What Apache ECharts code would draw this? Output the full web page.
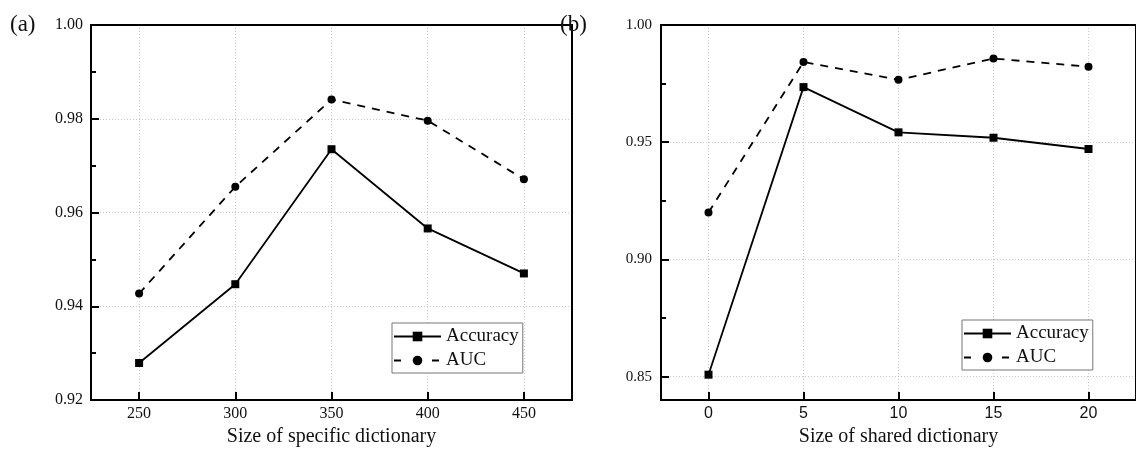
<!DOCTYPE html>
<html>
<head>
<meta charset="utf-8">
<script src="https://cdn.jsdelivr.net/npm/echarts@6/dist/echarts.min.js"></script>
<style>
    html, body { margin: 0; padding: 0; background: #fff; }
    #main { width: 1136px; height: 452px; }
</style>
</head>
<body>
<div id="main"></div>
<script>
// panel (a)
var specificSizes = [250, 300, 350, 400, 450];
var specificAccuracy = [0.9279, 0.9447, 0.9735, 0.9566, 0.9470];
var specificAUC = [0.9427, 0.9655, 0.9841, 0.9796, 0.9671];

// panel (b)
var sharedSizes = [0, 5, 10, 15, 20];
var sharedAccuracy = [0.8508, 0.9735, 0.9542, 0.9519, 0.9471];
var sharedAUC = [0.9200, 0.9842, 0.9766, 0.9857, 0.9822];
var sharedYTicks = [0.85, 0.90, 0.95, 1.00];
var sharedYMinor = [0.875, 0.925, 0.975];

var serif = 'Liberation Serif';

function pairs(xs, ys) {
    var out = [];
    for (var i = 0; i < xs.length; i++) {
        out.push([xs[i], ys[i]]);
    }
    return out;
}

function dotted() {
    return { show: true, lineStyle: { color: '#c8c8c8', type: [1, 2], width: 1 } };
}

function xAxisFor(grid, min, max, ticks, name, labelFont) {
    return {
        gridIndex: grid,
        type: 'value',
        min: min,
        max: max,
        name: name,
        nameLocation: 'middle',
        nameGap: 26,
        nameTextStyle: { fontFamily: serif, fontSize: 20, color: '#111' },
        axisLine: { show: true, onZero: false, lineStyle: { color: '#000', width: 2 } },
        axisTick: { show: true, inside: true, length: 8, customValues: ticks, lineStyle: { color: '#000', width: 2 } },
        axisLabel: { customValues: ticks, margin: 6, fontFamily: labelFont, fontSize: 16, color: '#111' },
        splitLine: dotted()
    };
}

function seriesPair(xIdx, yIdx, xs, acc, auc) {
    return [
        {
            name: 'Accuracy',
            type: 'line',
            xAxisIndex: xIdx,
            yAxisIndex: yIdx,
            data: pairs(xs, acc),
            symbol: 'rect',
            symbolSize: 8,
            color: '#000',
            lineStyle: { color: '#000', width: 1.8, type: 'solid' },
            itemStyle: { color: '#000' },
            z: 3
        },
        {
            name: 'AUC',
            type: 'line',
            xAxisIndex: xIdx,
            yAxisIndex: yIdx,
            data: pairs(xs, auc),
            symbol: 'circle',
            symbolSize: 8,
            color: '#000',
            lineStyle: { color: '#000', width: 1.8, type: [8, 7] },
            itemStyle: { color: '#000' },
            z: 3
        }
    ];
}

function legendAt(left, top) {
    return {
        orient: 'vertical',
        left: left,
        top: top,
        data: [
            { name: 'Accuracy' },
            { name: 'AUC', lineStyle: { type: [7, 12] } }
        ],
        itemWidth: 47,
        itemHeight: 12,
        itemGap: 5,
        padding: [4, 4, 3, 1],
        borderColor: '#777',
        borderWidth: 1,
        backgroundColor: '#fff',
        textStyle: { fontFamily: serif, fontSize: 19, color: '#111' }
    };
}

var chart = echarts.init(document.getElementById('main'));

var option = {
    backgroundColor: '#fff',
    animation: false,
    title: [
        { text: '(a)', left: 5, top: 8, textStyle: { fontFamily: serif, fontSize: 23, fontWeight: 'normal', color: '#111' } },
        { text: '(b)', left: 555, top: 8, textStyle: { fontFamily: serif, fontSize: 23, fontWeight: 'normal', color: '#111' } }
    ],
    legend: [legendAt(392, 323), legendAt(962, 320)],
    grid: [
        { left: 91, top: 25, width: 481, height: 375, show: true, z: 1, borderColor: '#000', borderWidth: 2 },
        { left: 661, top: 25, width: 484, height: 375, show: true, z: 1, borderColor: '#000', borderWidth: 2 }
    ],
    xAxis: [
        xAxisFor(0, 225, 475, specificSizes, 'Size of specific dictionary', serif),
        xAxisFor(1, -2.5, 22.5, sharedSizes, 'Size of shared dictionary', 'Liberation Sans')
    ],
    yAxis: [
        {
            gridIndex: 0,
            type: 'value',
            min: 0.92,
            max: 1.00,
            interval: 0.02,
            axisLine: { show: true, onZero: false, lineStyle: { color: '#000', width: 2 } },
            axisTick: { show: true, inside: true, length: 8, lineStyle: { color: '#000', width: 2 } },
            minorTick: { show: true, splitNumber: 2, length: 5, lineStyle: { color: '#000', width: 2 } },
            axisLabel: { margin: 8, fontFamily: serif, fontSize: 16, color: '#111', formatter: function (v) { return v.toFixed(2); } },
            splitLine: dotted()
        },
        {
            gridIndex: 1,
            type: 'value',
            min: 0.84,
            max: 1.00,
            axisLine: { show: true, onZero: false, lineStyle: { color: '#000', width: 2 } },
            axisTick: { show: true, inside: true, length: 8, customValues: sharedYTicks, lineStyle: { color: '#000', width: 2 } },
            axisLabel: { customValues: sharedYTicks, margin: 9, fontFamily: serif, fontSize: 15, color: '#111', formatter: function (v) { return v.toFixed(2); } },
            splitLine: dotted()
        },
        {
            // minor ticks only
            gridIndex: 1,
            type: 'value',
            position: 'left',
            min: 0.84,
            max: 1.00,
            axisLine: { show: false, onZero: false },
            axisTick: { show: true, inside: true, length: 5, customValues: sharedYMinor, lineStyle: { color: '#000', width: 2 } },
            axisLabel: { show: false },
            splitLine: { show: false }
        }
    ],
    series: seriesPair(0, 0, specificSizes, specificAccuracy, specificAUC)
        .concat(seriesPair(1, 1, sharedSizes, sharedAccuracy, sharedAUC))
};

chart.setOption(option);
</script>
</body>
</html>
